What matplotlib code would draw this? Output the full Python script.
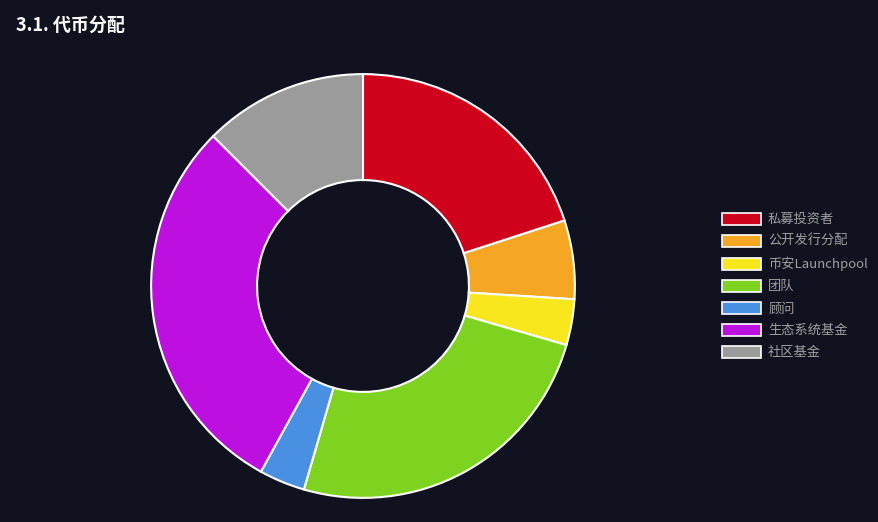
import matplotlib.pyplot as plt
from matplotlib.patches import Patch

plt.rcParams['font.family'] = ['Noto Sans CJK SC', 'DejaVu Sans']

labels = ['私募投资者', '公开发行分配', '币安Launchpool', '团队', '顾问', '生态系统基金', '社区基金']
values = [20, 6, 3.5, 25, 3.5, 29.5, 12.5]
colors = ['#d0021b', '#f5a623', '#f8e71c', '#7ed321', '#4a90e2', '#bd10e0', '#9b9b9b']

bg = '#10131f'
fig = plt.figure(figsize=(8.79, 5.22), dpi=100, facecolor=bg)

ax = fig.add_axes([(363 - 214) / 879, 22 / 522, 428 / 879, 428 / 522])
ax.set_facecolor(bg)
ax.pie(values, colors=colors, startangle=90, counterclock=False, radius=1,
       wedgeprops=dict(width=0.5, edgecolor='white', linewidth=1.5))
ax.set_xlim(-1.01, 1.01)
ax.set_ylim(-1.01, 1.01)
ax.set_aspect('equal')
ax.axis('off')

fig.text(16 / 879, 1 - 25 / 522, '3.1. 代币分配', color='white',
         fontsize=13, fontweight='bold', va='center')

handles = [Patch(facecolor=c, edgecolor='white', linewidth=1.2) for c in colors]
leg = fig.legend(handles, labels, loc='center left', bbox_to_anchor=(710 / 879, 1 - 286 / 522),
                 frameon=False, fontsize=9.5, labelcolor='#a0a0a0',
                 handlelength=3.0, handleheight=1.0, labelspacing=0.65, handletextpad=0.5)

fig.savefig('out.png', facecolor=bg)
